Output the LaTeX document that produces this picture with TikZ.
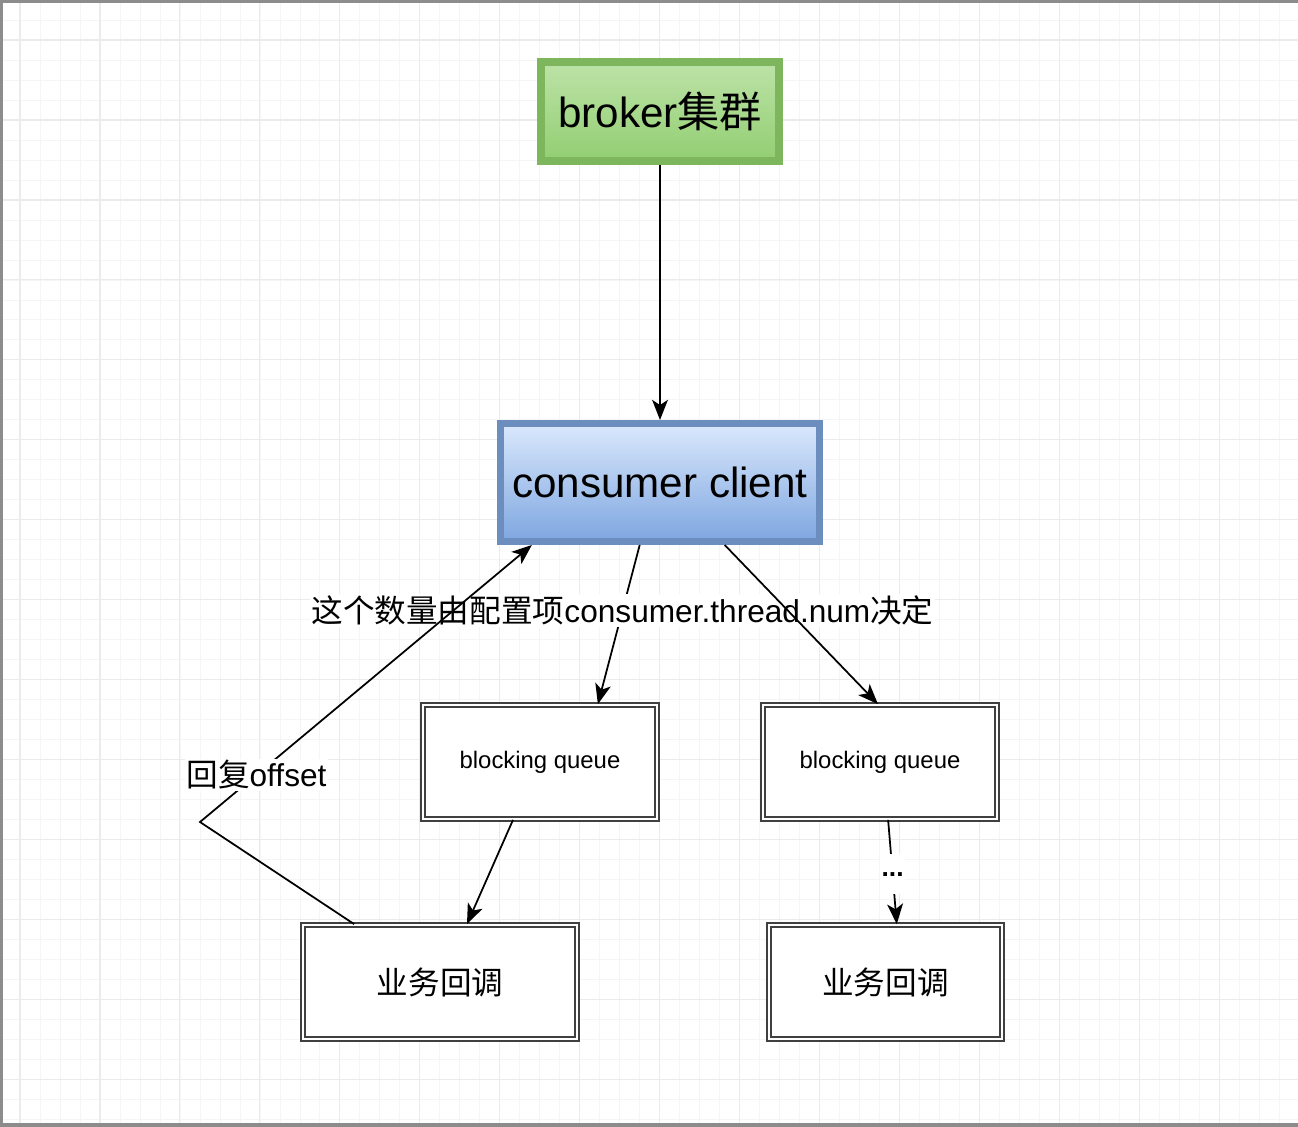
\documentclass[tikz,border=0pt]{standalone}
\usepackage{fontspec}
\setmainfont{Liberation Sans}
\newfontfamily\cjk{Noto Sans CJK SC}
\usetikzlibrary{arrows.meta}
\definecolor{bordoverde}{HTML}{7DB65C}
\definecolor{verdesu}{HTML}{BDE3A7}
\definecolor{verdegiu}{HTML}{92CE72}
\definecolor{bordoblu}{HTML}{6C8EBF}
\definecolor{blusu}{HTML}{DAE8FC}
\definecolor{blugiu}{HTML}{7EA6E0}
\begin{document}
\begin{tikzpicture}[
			x=0.02cm, y=-0.02cm,
			freccia/.style={line width=1pt, black,
				-{Stealth[length=11.5pt, width=9pt, inset=3pt]}},
			coda/.style={rectangle, draw=black!75, fill=white,
				line width=1pt, double, double distance=1.5pt,
				minimum height=2.28cm, inner sep=0pt},
			etichetta/.style={fill=white, inner sep=1pt, text=black},
			]
			\useasboundingbox (0,0) rectangle (1298,1126);
			\fill[white] (0,0) rectangle (1298,1126);
			\draw[black!4, line width=0.5pt, step=0.4cm] (0,0) grid (1298,1126);
			\draw[black!8, line width=0.6pt, step=1.6cm, shift={(20,40)}]
			(-20,-40) grid (1278,1086);
			\draw[black!45, line width=2.5pt] (1298,1) -- (1,1) -- (1,1125) -- (1298,1125);
			
			\node[rectangle, draw=bordoverde, line width=4.5pt,
			top color=verdesu, bottom color=verdegiu,
			minimum width=4.76cm, minimum height=1.98cm,
			font=\fontsize{24}{28}\selectfont]
			(broker) at (660,111.5) {broker{\cjk 集群}};
			\node[rectangle, draw=bordoblu, line width=4pt,
			top color=blusu, bottom color=blugiu,
			minimum width=6.38cm, minimum height=2.36cm,
			font=\fontsize{24}{28}\selectfont]
			(client) at (660,482.5) {consumer client};
			
			\node[coda, minimum width=4.68cm, font=\fontsize{13.6}{16}\selectfont]
			(coda1) at (540,762) {blocking queue};
			\node[coda, minimum width=4.68cm, font=\fontsize{13.6}{16}\selectfont]
			(coda2) at (880,762) {blocking queue};
			\node[coda, minimum width=5.48cm, font=\fontsize{18}{22}\selectfont\cjk]
			(callback1) at (440,982) {业务回调};
			\node[coda, minimum width=4.66cm, font=\fontsize{18}{22}\selectfont\cjk]
			(callback2) at (885.5,982) {业务回调};
			
			\coordinate (gomito) at (200,822);
			
			\draw[freccia](broker)--(client);
			\draw[freccia](client.252)--(coda1.45)
			node[etichetta, pos=0.41, font=\fontsize{18}{22}\selectfont]
			{{\cjk 这个数量由配置项}consumer.thread.num{\cjk 决定}};
			\draw[freccia](client.-44)--(coda2.92);
			\draw[freccia](coda1.245)--(callback1.65);
			\draw[freccia](coda2.-82)--(callback2.79)
			node[etichetta, pos=0.52, minimum height=0.8cm,
			font=\bfseries\fontsize{15}{18}\selectfont]{...};
			\draw[freccia](callback1.146)--(gomito)--(client.206)
			node[etichetta, pos=0.17, font=\fontsize{18}{22}\selectfont]
			{{\cjk 回复}offset};
		\end{tikzpicture}
\end{document}
